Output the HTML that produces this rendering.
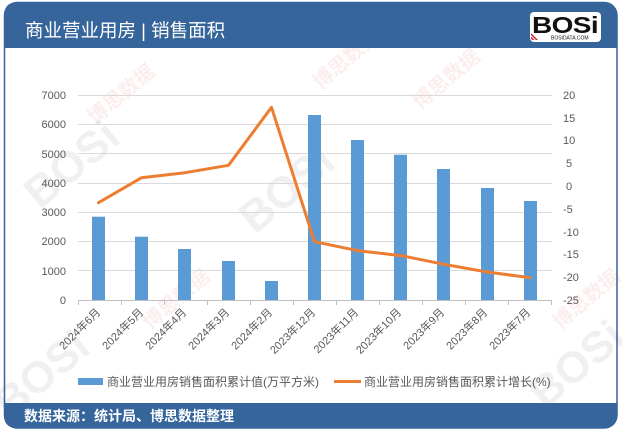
<!DOCTYPE html>
<html><head><meta charset="utf-8">
<style>
html,body{margin:0;padding:0;background:#fff;}
body{width:622px;height:433px;overflow:hidden;position:relative;font-family:"Liberation Sans","Noto Sans CJK SC",sans-serif;}
</style></head>
<body>
<svg width="622" height="433" viewBox="0 0 622 433" xmlns="http://www.w3.org/2000/svg" style="position:absolute;left:0;top:0">
  <!-- frame -->
  <rect x="4.5" y="2.5" width="612.5" height="425.5" rx="13" ry="13" fill="#fff" stroke="#35659b" stroke-width="1.5"/>

  <!-- faint watermarks -->
  <g font-family="'Liberation Sans',sans-serif" font-weight="bold" fill="#000" opacity="0.06">
    <text transform="translate(40,210) rotate(-40)" font-size="44">BOSi</text>
    <text transform="translate(255,235) rotate(-40)" font-size="44">BOSi</text>
    <text transform="translate(545,410) rotate(-40)" font-size="44">BOSi</text>
    <text transform="translate(10,420) rotate(-40)" font-size="44">BOSi</text>
  </g>
  <g font-family="'Liberation Sans','Noto Sans CJK SC',sans-serif" font-weight="bold" fill="#d03030" opacity="0.08">
    <text transform="translate(95,125) rotate(-40)" font-size="20">博思数据</text>
    <text transform="translate(320,90) rotate(-40)" font-size="20">博思数据</text>
    <text transform="translate(420,110) rotate(-40)" font-size="20">博思数据</text>
    <text transform="translate(150,330) rotate(-40)" font-size="20">博思数据</text>
    <text transform="translate(560,330) rotate(-40)" font-size="20">博思数据</text>
  </g>

  <!-- header -->
  <path d="M4,48 L4,16 Q4,2 18,2 L603,2 Q617,2 617,16 L617,48 Z" fill="#35659b"/>
  <text x="25" y="37" font-size="18.5" fill="#fff" font-family="'Liberation Sans','Noto Sans CJK SC',sans-serif">商业营业用房 | 销售面积</text>
  <!-- logo -->
  <rect x="530" y="12" width="71" height="30" rx="4" fill="#fff"/>
  <text x="532" y="33" font-size="23" font-weight="bold" fill="#111" font-family="'Liberation Sans',sans-serif" letter-spacing="-0.5" textLength="66" lengthAdjust="spacingAndGlyphs">BOSi</text>
  <text x="551" y="39.5" font-size="5" fill="#111" font-family="'Liberation Sans',sans-serif">BOSIDATA.COM</text>
  <path d="M531,33 L538,40 L536,40 L531,35 Z M531,36.5 L534.5,40 L532.5,40 L531,38.5Z" fill="#c8202e"/>
  <!-- footer -->
  <path d="M4,403 L617,403 L617,415 Q617,428 604,428 L17,428 Q4,428 4,415 Z" fill="#35659b"/>
  <text x="24" y="421" font-size="14" font-weight="bold" fill="#fff" font-family="'Liberation Sans','Noto Sans CJK SC',sans-serif">数据来源：统计局、博思数据整理</text>

  <!-- gridlines -->
  <g stroke="#d9d9d9" stroke-width="1">
    <line x1="78" y1="95.5" x2="552" y2="95.5"/>
    <line x1="78" y1="124.5" x2="552" y2="124.5"/>
    <line x1="78" y1="153.5" x2="552" y2="153.5"/>
    <line x1="78" y1="183.5" x2="552" y2="183.5"/>
    <line x1="78" y1="212.5" x2="552" y2="212.5"/>
    <line x1="78" y1="241.5" x2="552" y2="241.5"/>
    <line x1="78" y1="270.5" x2="552" y2="270.5"/>
  </g>
  <g stroke="#bfbfbf" stroke-width="1">
    <line x1="78" y1="300.5" x2="552" y2="300.5"/>
    <line x1="78.5" y1="300" x2="78.5" y2="305"/>
    <line x1="121.5" y1="300" x2="121.5" y2="305"/>
    <line x1="164.5" y1="300" x2="164.5" y2="305"/>
    <line x1="207.5" y1="300" x2="207.5" y2="305"/>
    <line x1="250.5" y1="300" x2="250.5" y2="305"/>
    <line x1="293.5" y1="300" x2="293.5" y2="305"/>
    <line x1="336.5" y1="300" x2="336.5" y2="305"/>
    <line x1="379.5" y1="300" x2="379.5" y2="305"/>
    <line x1="422.5" y1="300" x2="422.5" y2="305"/>
    <line x1="465.5" y1="300" x2="465.5" y2="305"/>
    <line x1="508.5" y1="300" x2="508.5" y2="305"/>
    <line x1="551.5" y1="300" x2="551.5" y2="305"/>
  </g>

  <!-- left axis labels -->
  <g font-size="11" fill="#595959" text-anchor="end" font-family="'Liberation Sans',sans-serif">
    <text x="66" y="99">7000</text>
    <text x="66" y="128">6000</text>
    <text x="66" y="158">5000</text>
    <text x="66" y="187">4000</text>
    <text x="66" y="216">3000</text>
    <text x="66" y="245">2000</text>
    <text x="66" y="275">1000</text>
    <text x="66" y="304">0</text>
  </g>
  <!-- right axis labels -->
  <g font-size="11" fill="#595959" text-anchor="start" font-family="'Liberation Sans',sans-serif">
    <text x="563" y="99">20</text>
    <text x="563" y="122">15</text>
    <text x="563" y="144">10</text>
    <text x="566" y="167">5</text>
    <text x="566" y="190">0</text>
    <text x="563" y="213">-5</text>
    <text x="563" y="236">-10</text>
    <text x="563" y="258">-15</text>
    <text x="563" y="281">-20</text>
    <text x="563" y="304">-25</text>
  </g>

  <!-- bars -->
  <g fill="#5b9bd5">
    <rect x="92" y="216.7" width="13" height="83.3"/>
    <rect x="135" y="236.7" width="13" height="63.3"/>
    <rect x="178" y="249" width="13" height="51"/>
    <rect x="222" y="261" width="13" height="39"/>
    <rect x="265" y="281" width="13" height="19"/>
    <rect x="308" y="115" width="13" height="185"/>
    <rect x="351" y="140" width="13" height="160"/>
    <rect x="394" y="154.7" width="13" height="145.3"/>
    <rect x="437" y="169" width="13" height="131"/>
    <rect x="481" y="188" width="13" height="112"/>
    <rect x="524" y="201" width="13" height="99"/>
  </g>

  <!-- line -->
  <polyline fill="none" stroke="#ed7d31" stroke-width="3" stroke-linejoin="round" stroke-linecap="round"
    points="98.5,202.7 141.5,177.7 185,172.7 228.5,165.3 271.5,107.3 314.5,241.7 358,250.7 401.5,255.7 444,264.3 487,272 530,277.7"/>

  <!-- x labels -->
  <g font-size="11" fill="#595959" text-anchor="end" font-family="'Liberation Sans','Noto Sans CJK SC',sans-serif">
    <text transform="translate(101,313) rotate(-45)">2024年6月</text>
    <text transform="translate(144,313) rotate(-45)">2024年5月</text>
    <text transform="translate(187,313) rotate(-45)">2024年4月</text>
    <text transform="translate(230,313) rotate(-45)">2024年3月</text>
    <text transform="translate(273,313) rotate(-45)">2024年2月</text>
    <text transform="translate(316,313) rotate(-45)">2023年12月</text>
    <text transform="translate(359,313) rotate(-45)">2023年11月</text>
    <text transform="translate(402,313) rotate(-45)">2023年10月</text>
    <text transform="translate(445,313) rotate(-45)">2023年9月</text>
    <text transform="translate(488,313) rotate(-45)">2023年8月</text>
    <text transform="translate(531,313) rotate(-45)">2023年7月</text>
  </g>

  <!-- legend -->
  <rect x="78" y="378" width="25" height="7" fill="#5b9bd5"/>
  <text x="107" y="386" font-size="12" fill="#595959" font-family="'Liberation Sans','Noto Sans CJK SC',sans-serif">商业营业用房销售面积累计值(万平方米)</text>
  <line x1="334" y1="381.5" x2="361" y2="381.5" stroke="#ed7d31" stroke-width="3"/>
  <text x="364" y="386" font-size="12" fill="#595959" font-family="'Liberation Sans','Noto Sans CJK SC',sans-serif">商业营业用房销售面积累计增长(%)</text>
</svg>
</body></html>
